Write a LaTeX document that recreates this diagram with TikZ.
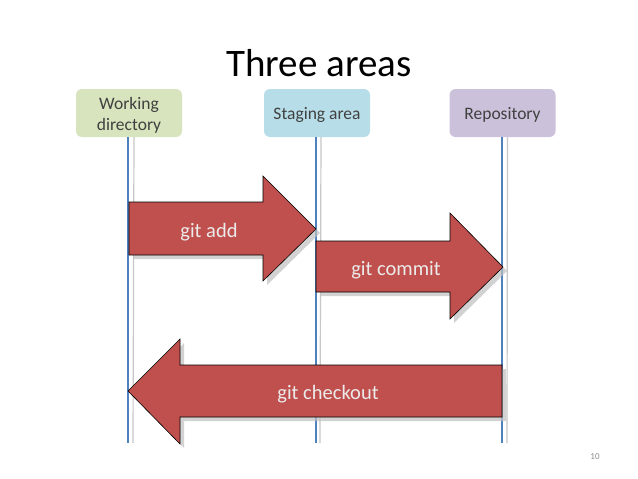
\documentclass[tikz,border=0pt]{standalone}
\usepackage{fontspec}
\setmainfont{Carlito}
\definecolor{wdgreen}{HTML}{D7E4BD}
\definecolor{stblue}{HTML}{B7DEE8}
\definecolor{repoviolet}{HTML}{CCC1DA}
\definecolor{arrowred}{HTML}{C0504D}
\definecolor{lineblue}{HTML}{4F81BD}
\definecolor{textgray}{HTML}{404040}
\tikzset{
  areabox/.style={rounded corners=6pt, minimum width=106pt, minimum height=48pt, inner sep=0pt,
    align=center, text=textgray, font=\fontsize{17.5}{20}\selectfont},
  lifeline/.style={draw=lineblue, line width=1.4pt},
  lifeshadow/.style={draw=black!22, line width=1.2pt},
  bigarrow/.style={fill=arrowred, draw=black, line width=0.6pt, line join=miter},
  arrowshadow/.style={fill=black!25, draw=none, opacity=0.7},
  arrowlabel/.style={text=white!92!black, font=\fontsize{20.5}{24}\selectfont},
}
\begin{document}
\begin{tikzpicture}[x=1pt,y=-1pt]
\useasboundingbox (0,0) rectangle (638,479);
\fill[white] (0,0) rectangle (638,479);

\node[font=\fontsize{39}{45}\selectfont, text=black] (title) at (319,63) {Three areas};

\node[areabox, fill=wdgreen] (wd) at (129,113) {};
\node[text=textgray, align=center, font=\fontsize{17.5}{21}\selectfont] (wdtext) at (129,115) {Working\\directory};
\node[areabox, fill=stblue] (st) at (317,113) {};
\node[text=textgray, font=\fontsize{17.5}{21}\selectfont] (sttext) at (317,115) {Staging area};
\node[areabox, fill=repoviolet] (repo) at (502.5,113) {};
\node[text=textgray, font=\fontsize{17.5}{21}\selectfont] (repotext) at (502.5,115) {Repository};

% lifelines
\coordinate (wdend) at (128,443);
\coordinate (stend) at (316,443);
\coordinate (repoend) at (502,443);
\draw[lifeshadow] ([xshift=5pt]wd.south) -- ([xshift=5pt]wdend);
\draw[lifeshadow] ([xshift=4pt]st.south) -- ([xshift=4pt]stend);
\draw[lifeshadow] ([xshift=5pt]repo.south) -- ([xshift=5pt]repoend);
\draw[lifeline] (wd.south -| wdend) -- (wdend);
\draw[lifeline] (st.south -| stend) -- (stend);
\draw[lifeline] (repo.south -| repoend) -- (repoend);

% git add
\fill[arrowshadow, shift={(4,4)}] (129,202) -- (263,202) -- (263,176) -- (316,229) -- (263,281) -- (263,255) -- (129,255) -- cycle;
\draw[bigarrow] (129,202) -- (263,202) -- (263,176) -- (316,229) -- (263,281) -- (263,255) -- (129,255) -- cycle;
\node[arrowlabel] (add) at (209,232) {git add};

% git commit
\fill[arrowshadow, shift={(4,4)}] (316,241) -- (450,241) -- (450,213) -- (503,267) -- (450,319) -- (450,292) -- (316,292) -- cycle;
\draw[bigarrow] (316,241) -- (450,241) -- (450,213) -- (503,267) -- (450,319) -- (450,292) -- (316,292) -- cycle;
\node[arrowlabel] (commit) at (396,270) {git commit};

% git checkout
\fill[arrowshadow, shift={(4,4)}] (502,365) -- (180,365) -- (180,339) -- (128,391) -- (180,444) -- (180,417) -- (502,417) -- cycle;
\draw[bigarrow] (502,365) -- (180,365) -- (180,339) -- (128,391) -- (180,444) -- (180,417) -- (502,417) -- cycle;
\node[arrowlabel] (checkout) at (328,394) {git checkout};

\node[text=black!45, font=\fontsize{9}{10}\selectfont] (page) at (595,457) {10};
\end{tikzpicture}
\end{document}
